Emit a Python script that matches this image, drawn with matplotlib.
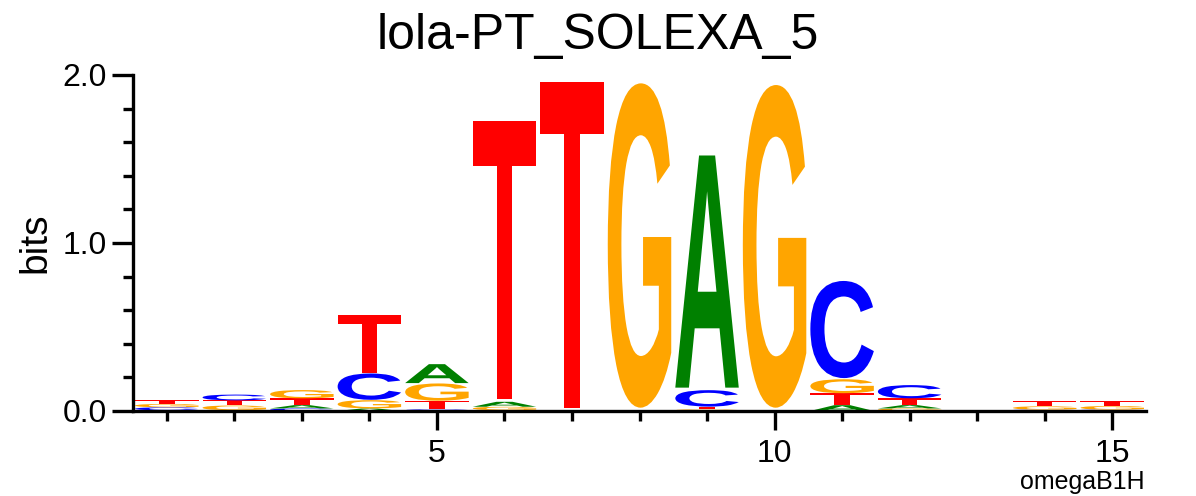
import matplotlib
matplotlib.use('Agg')
import matplotlib.pyplot as plt
from matplotlib.textpath import TextPath
from matplotlib.patches import PathPatch
from matplotlib.font_manager import FontProperties
from matplotlib.transforms import Affine2D
from matplotlib.ticker import MultipleLocator, FixedLocator

plt.rcParams['font.family'] = ['Liberation Sans', 'DejaVu Sans']

# information content (bits) of each base at positions 1..15
positions = list(range(1, 16))
bits_A = [0.004, 0.005, 0.020, 0.015, 0.115, 0.030, 0.0, 0.0, 1.410, 0.0, 0.035, 0.020, 0.0, 0.004, 0.004]
bits_C = [0.018, 0.035, 0.015, 0.160, 0.010, 0.005, 0.0, 0.0, 0.100, 0.0, 0.590, 0.080, 0.0, 0.004, 0.004]
bits_G = [0.020, 0.028, 0.050, 0.050, 0.105, 0.020, 0.0, 1.970, 0.010, 1.960, 0.085, 0.015, 0.0, 0.020, 0.022]
bits_T = [0.022, 0.030, 0.040, 0.350, 0.050, 1.690, 1.980, 0.0, 0.015, 0.0, 0.070, 0.040, 0.0, 0.030, 0.030]

colors = {'A': '#008000', 'C': '#0000ff', 'G': '#ffa500', 'T': '#ff0000'}
fp = FontProperties(family='Liberation Sans', weight='bold')


def draw_letter(ax, ch, x, y, w, h, color):
    tp = TextPath((0, 0), ch, size=1, prop=fp)
    bb = tp.get_extents()
    tr = Affine2D().translate(-bb.x0, -bb.y0).scale(w / bb.width, h / bb.height).translate(x - w / 2, y)
    ax.add_patch(PathPatch(tr.transform_path(tp), fc=color, ec='none', lw=0))


fig = plt.figure(figsize=(11.96, 4.96), dpi=100)
ax = fig.add_axes([133 / 1196, 1 - 411 / 496, (1146 - 133) / 1196, (411 - 75) / 496])

for i, p in enumerate(positions):
    stack = sorted([('A', bits_A[i]), ('C', bits_C[i]), ('G', bits_G[i]), ('T', bits_T[i])],
                   key=lambda t: t[1])
    y0 = 0.0
    for ch, h in stack:
        if h > 0:
            draw_letter(ax, ch, p, y0 + h * 0.01, 0.94, h * 0.98, colors[ch])
        y0 += h

ax.set_xlim(0.5, 15.5)
ax.set_ylim(0, 2.0)

for s in ['top', 'right']:
    ax.spines[s].set_visible(False)
for s in ['left', 'bottom']:
    ax.spines[s].set_linewidth(2.4)

ax.yaxis.set_major_locator(FixedLocator([0, 1, 2]))
ax.yaxis.set_minor_locator(MultipleLocator(0.2))
ax.set_yticklabels(['0.0', '1.0', '2.0'])
ax.xaxis.set_major_locator(FixedLocator([5, 10, 15]))
ax.xaxis.set_minor_locator(FixedLocator(positions))
ax.set_xticklabels(['5', '10', '15'])

ax.tick_params(which='major', length=15, width=2.4, labelsize=23, pad=4)
ax.tick_params(which='minor', length=7, width=2.4)
ax.tick_params(axis='x', which='major', length=14, pad=6)
ax.tick_params(axis='x', which='minor', length=7)

ax.set_ylabel('bits', fontsize=28, labelpad=6)

fig.text(0.5, 1 - 49 / 496, 'lola-PT_SOLEXA_5', ha='center', va='baseline', fontsize=36)
fig.text(1145 / 1196, 1 - 489 / 496, 'omegaB1H', ha='right', va='baseline', fontsize=18)

fig.savefig('out.png', dpi=100)
